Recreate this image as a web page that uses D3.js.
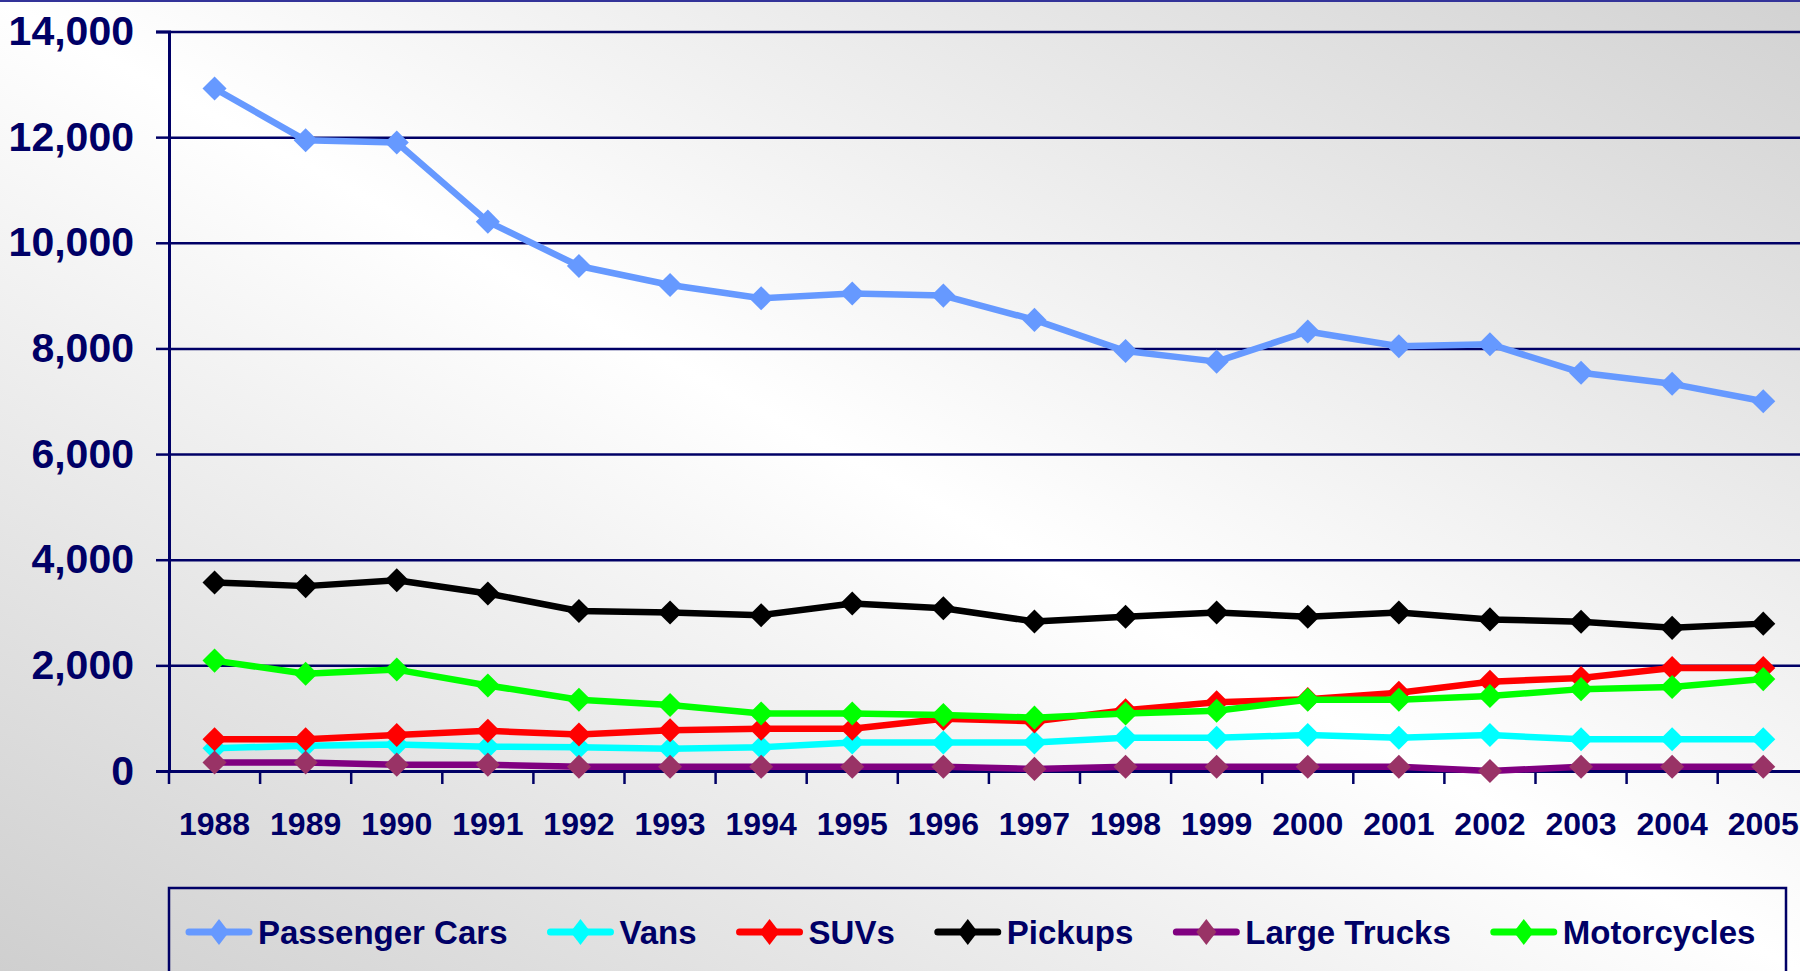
<!DOCTYPE html>
<html>
<head>
<meta charset="utf-8">
<script src="https://cdn.jsdelivr.net/npm/d3@7"></script>
<style>
  body { margin: 0; padding: 0; overflow: hidden; }
  svg { display: block; }
</style>
</head>
<body>
<div id="chart"></div>
<script>
let years = ['1988','1989','1990','1991','1992','1993','1994','1995','1996','1997','1998','1999','2000','2001','2002','2003','2004','2005'];
let passengerCars = [12920,11940,11900,10400,9560,9200,8950,9040,9000,8540,7950,7750,8320,8040,8080,7540,7330,7000];
let vans          = [430,480,500,460,450,420,450,540,540,540,630,630,680,630,680,600,600,600];
let suvs          = [600,600,680,760,690,770,800,800,990,940,1150,1300,1360,1480,1690,1760,1950,1950];
let pickups       = [3570,3500,3610,3360,3030,3000,2950,3170,3080,2830,2920,3000,2920,3000,2870,2825,2710,2790];
let largeTrucks   = [160,160,120,120,80,80,80,80,80,40,80,80,80,80,0,80,80,80];
let motorcycles   = [2090,1840,1920,1620,1350,1250,1090,1090,1060,1010,1090,1140,1350,1350,1420,1550,1590,1740];
let yTicks = [0,2000,4000,6000,8000,10000,12000,14000];

let series = [
  {name: 'Passenger Cars', values: passengerCars, line: '#6699FF', mark: '#6699FF'},
  {name: 'Vans',           values: vans,          line: '#00FFFF', mark: '#00FFFF'},
  {name: 'SUVs',           values: suvs,          line: '#FF0000', mark: '#FF0000'},
  {name: 'Pickups',        values: pickups,       line: '#000000', mark: '#000000'},
  {name: 'Large Trucks',   values: largeTrucks,   line: '#800080', mark: '#993366'},
  {name: 'Motorcycles',    values: motorcycles,   line: '#00FF00', mark: '#00FF00'}
];

let width = 1800,
    height = 971,
    navy = '#000066',
    font = '"Liberation Sans", Arial, sans-serif';

let x = d3.scaleBand()
  .domain(years)
  .range([169, 169 + 18 * 91.1]);

let y = d3.scaleLinear()
  .domain([0, 14000])
  .range([771, 31.5]);

let svg = d3.select('#chart').append('svg')
  .attr('width', width)
  .attr('height', height);

// background gradient
let grad = svg.append('defs').append('linearGradient')
  .attr('id', 'bg')
  .attr('x1', 0).attr('y1', 1)
  .attr('x2', 1).attr('y2', 0);
grad.append('stop').attr('offset', '0%').attr('stop-color', '#cfcfcf');
grad.append('stop').attr('offset', '50%').attr('stop-color', '#ffffff');
grad.append('stop').attr('offset', '100%').attr('stop-color', '#d2d2d2');

svg.append('rect')
  .attr('width', width)
  .attr('height', height)
  .attr('fill', 'url(#bg)');

svg.append('line')
  .attr('x1', 0).attr('x2', width)
  .attr('y1', 1).attr('y2', 1)
  .attr('stroke', '#333399')
  .attr('stroke-width', 2);

// gridlines
svg.append('g')
  .attr('transform', 'translate(169,0)')
  .call(d3.axisLeft(y).tickValues(yTicks).tickSize(-(width)).tickFormat(''))
  .call(g => g.select('.domain').remove())
  .call(g => g.selectAll('line').attr('stroke', navy).attr('stroke-width', 2.5));

// y axis
svg.append('g')
  .attr('transform', 'translate(169,0)')
  .call(d3.axisLeft(y).tickValues(yTicks).tickSize(13).tickPadding(22).tickFormat(d3.format(',')))
  .call(g => g.select('.domain').attr('stroke', navy).attr('stroke-width', 3))
  .call(g => g.selectAll('line').attr('stroke', navy).attr('stroke-width', 2.5))
  .call(g => g.selectAll('text')
    .attr('fill', navy)
    .style('font-family', font)
    .style('font-weight', 'bold')
    .style('font-size', '41px'));

// x axis
svg.append('g')
  .attr('transform', 'translate(0,771)')
  .call(d3.axisBottom(x).tickSize(0).tickPadding(41))
  .call(g => g.select('.domain').attr('stroke', navy).attr('stroke-width', 3))
  .call(g => g.selectAll('text')
    .attr('fill', navy)
    .style('font-family', font)
    .style('font-weight', 'bold')
    .style('font-size', '32px'));

svg.append('g')
  .selectAll('line')
  .data(years)
  .enter().append('line')
    .attr('x1', d => x(d)).attr('x2', d => x(d))
    .attr('y1', 771).attr('y2', 784)
    .attr('stroke', navy)
    .attr('stroke-width', 2.5);

// lines + markers
let line = d3.line()
  .x((d, i) => x(years[i]) + x.bandwidth() / 2)
  .y(d => y(d));

let diamond = d3.symbol(d3.symbolSquare, 290);

series.forEach(s => {
  let g = svg.append('g');
  g.append('path')
    .datum(s.values)
    .attr('d', line)
    .attr('fill', 'none')
    .attr('stroke', s.line)
    .attr('stroke-width', 6.5)
    .attr('stroke-linejoin', 'round');
  g.selectAll('path.mk')
    .data(s.values)
    .enter().append('path')
      .attr('class', 'mk')
      .attr('d', diamond)
      .attr('fill', s.mark)
      .attr('transform', (d, i) => 'translate(' + (x(years[i]) + x.bandwidth() / 2) + ',' + y(d) + ') rotate(45)');
});

// legend
svg.append('rect')
  .attr('x', 169).attr('y', 888)
  .attr('width', 1617).attr('height', 120)
  .attr('fill', 'none')
  .attr('stroke', navy)
  .attr('stroke-width', 2.5);

let lx = 186, ly = 932;
series.forEach(s => {
  let item = svg.append('g').attr('transform', 'translate(' + lx + ',' + ly + ')');
  item.append('line')
    .attr('x1', 3).attr('x2', 63)
    .attr('stroke', s.line)
    .attr('stroke-width', 7)
    .attr('stroke-linecap', 'round');
  item.append('path')
    .attr('d', 'M33,-13L43,0L33,13L23,0Z')
    .attr('fill', s.mark);
  let t = item.append('text')
    .attr('x', 72)
    .attr('dy', '0.35em')
    .attr('fill', navy)
    .style('font-family', font)
    .style('font-weight', 'bold')
    .style('font-size', '33px')
    .text(s.name);
  lx += 72 + t.node().getComputedTextLength() + 40;
});
</script>
</body>
</html>
